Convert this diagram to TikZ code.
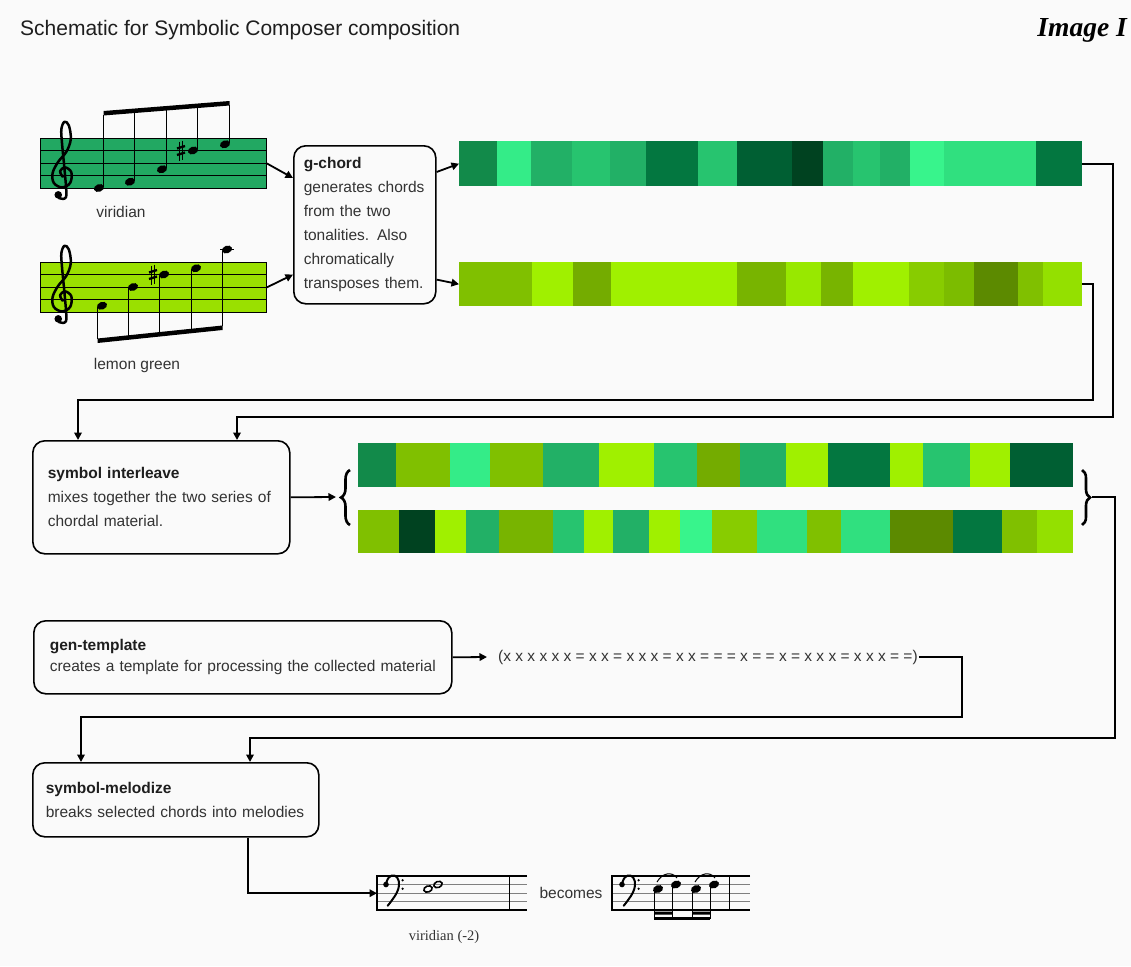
\documentclass[tikz,border=0pt]{standalone}
\usepackage{fontspec}
\setmainfont{Liberation Sans}
\newfontfamily\timesfam{Liberation Serif}
\usetikzlibrary{arrows.meta,calc,decorations.pathreplacing}
\definecolor{bgc}{HTML}{FAFAFA}
\definecolor{txc}{HTML}{333333}
\definecolor{hdc}{HTML}{1E1E1E}
\definecolor{vir}{HTML}{22A862}
\definecolor{lem}{HTML}{9AE000}
\definecolor{Ga}{HTML}{128A4A}
\definecolor{Gb}{HTML}{34EC88}
\definecolor{Gc}{HTML}{22B066}
\definecolor{Gd}{HTML}{27C46F}
\definecolor{Ge}{HTML}{037740}
\definecolor{Gf}{HTML}{005F33}
\definecolor{Gg}{HTML}{004220}
\definecolor{Gh}{HTML}{38F48C}
\definecolor{Gi}{HTML}{30E07F}
\definecolor{La}{HTML}{80C000}
\definecolor{Lb}{HTML}{A0F000}
\definecolor{Lc}{HTML}{74AC00}
\definecolor{Ld}{HTML}{78B400}
\definecolor{Le}{HTML}{98E800}
\definecolor{Lf}{HTML}{88CC00}
\definecolor{Lg}{HTML}{7CBC00}
\definecolor{Lh}{HTML}{5C8A00}
\definecolor{Li}{HTML}{94E000}
\newcommand\MyTrebleClef{%
  \draw[line width=2.5pt, line cap=round, line join=round] plot[smooth, tension=0.6] coordinates {(0.05,-0.1) (-0.15,0.35) (0.25,0.65) (0.75,0.25) (0.65,-0.6) (0,-0.95) (-0.65,-0.6) (-0.75,0.2) (-0.3,1.1) (0.35,1.9) (0.7,2.9) (0.55,4.0) (0.2,4.3) (-0.05,3.7) (0,2.6) (0.2,0.5) (0.35,-1.4) (0.2,-1.85) (-0.25,-1.8)};
  \fill (-0.3,-1.55) circle[radius=3.8pt];}
\newcommand\MyBassClef{%
  \fill (0,0) circle[radius=2.8pt];
  \draw[line width=2pt, line cap=round] plot[smooth, tension=0.7] coordinates {(0,0.1) (0.35,0.85) (1.0,1.05) (1.5,0.4) (1.3,-0.9) (0.2,-2.5)};
  \fill (1.95,0.5) circle[radius=1.3pt];
  \fill (1.95,-0.5) circle[radius=1.3pt];}
\newcommand\MyHead[2]{\fill[rotate around={20:(#1,#2)}] (#1,#2) ellipse[x radius=5.2pt, y radius=3.8pt];}
\newcommand\MyWhole[2]{\draw[line width=1.6pt, rotate around={20:(#1,#2)}] (#1,#2) ellipse[x radius=4.3pt, y radius=3pt];}
\newcommand\MySharp[2]{%
  \draw[line width=0.9pt] ({#1-1.8},{#2-9}) -- ({#1-1.8},{#2+10}) ({#1+1.8},{#2-10}) -- ({#1+1.8},{#2+9});
  \draw[line width=2.3pt] ({#1-4},{#2-2}) -- ({#1+4},{#2-4.5}) ({#1-4},{#2+4.5}) -- ({#1+4},{#2+2});}
\begin{document}
\begin{tikzpicture}[x=1pt,y=-1pt,
  txt/.style={font=\fontsize{15.5}{24}\selectfont, text=txc},
  box/.style={draw=black, line width=1.6pt, rounded corners=12pt, anchor=north west, align=left, inner ysep=0pt, txt},
  arr/.style={line width=1.8pt, line join=miter, -{Triangle[length=7.5pt,width=7.5pt]}},
  staffbox/.style={draw=black, line width=0.8pt, anchor=north west, inner sep=0pt},
  barbox/.style={anchor=north west, inner sep=0pt, draw=none},
  brc/.style={decorate, line width=2.6pt}]
\useasboundingbox (0,0) rectangle (1131,966);
\fill[bgc] (0,0) rectangle (1131,966);

% titles
\node[anchor=west, inner sep=0pt, font=\fontsize{21}{24}\selectfont, text=hdc] (title) at (20,30) {Schematic for Symbolic Composer composition};
\node[anchor=east, inner sep=0pt, font=\timesfam\bfseries\itshape\fontsize{27.5}{30}\selectfont, text=black] (imgI) at (1127,30) {Image I};

% viridian staff
\node[staffbox, fill=vir, minimum width=226pt, minimum height=50pt] (vstaff) at (40,138) {};
\foreach \k in {1,2,3} \draw[line width=0.8pt] (40,{138+12.5*\k}) -- (266,{138+12.5*\k});
\begin{scope}[shift={(62,175.5)}, x=12.5pt, y=12.5pt]\MyTrebleClef\end{scope}
\MyHead{99}{188}\MyHead{130}{181.75}\MyHead{162}{169.25}\MyHead{193}{150.5}\MyHead{225}{144.25}
\MySharp{181}{150.5}
\draw[line width=1pt] (103.5,187) -- (103.5,115) (134.5,180.5) -- (134.5,112.5) (166.5,168) -- (166.5,110) (197.5,149) -- (197.5,107.5) (229.5,143) -- (229.5,105);
\fill (103.5,111) -- (229.5,101) -- (229.5,105.5) -- (103.5,115.5) -- cycle;
\node[txt, anchor=center] (vlab) at (121,212) {viridian};

% lemon staff
\node[staffbox, fill=lem, minimum width=226pt, minimum height=50pt] (lstaff) at (40,262) {};
\foreach \k in {1,2,3} \draw[line width=0.8pt] (40,{262+12.5*\k}) -- (266,{262+12.5*\k});
\begin{scope}[shift={(62,299.5)}, x=12.5pt, y=12.5pt]\MyTrebleClef\end{scope}
\draw[line width=1pt] (220,249.5) -- (234,249.5);
\MyHead{102}{305.75}\MyHead{133}{287}\MyHead{164}{274.5}\MyHead{196}{268.25}\MyHead{227}{249.5}
\MySharp{153}{274.5}
\draw[line width=1pt] (97.5,306.5) -- (97.5,339) (128.5,288) -- (128.5,336) (159.5,275.5) -- (159.5,332.5) (191.5,269) -- (191.5,329) (222.5,250.5) -- (222.5,326);
\fill (97.5,338.5) -- (222.5,325.5) -- (222.5,330) -- (97.5,343) -- cycle;
\node[txt, anchor=center] (llab) at (137,365) {lemon green};

% g-chord box
\node[box, minimum width=142pt, minimum height=158pt, text width=122pt, inner xsep=10pt] (gchord) at (293,145)
 {\textbf{\textcolor{hdc}{g-chord}}\\generates chords\\from the two\\tonalities. Also\\chromatically\\transposes them.};
\draw[arr] (vstaff.east) -- ($(gchord.north west)+(0,33)$);
\draw[arr] (lstaff.east) -- ($(gchord.south west)+(0,-30)$);

% chord bars
\node[barbox, minimum width=623pt, minimum height=45pt] (topbar) at (459,141) {};
\foreach \a/\b/\c in {459/497/Ga,497/531/Gb,531/572/Gc,572/610/Gd,610/646/Gc,646/698/Ge,698/737/Gd,737/792/Gf,792/823/Gg,823/853/Gc,853/880/Gd,880/910/Gc,910/944/Gh,944/1036/Gi,1036/1082/Ge}
  \fill[\c] (\a,141) rectangle (\b,186);
\node[barbox, minimum width=623pt, minimum height=44pt] (botbar) at (459,262) {};
\foreach \a/\b/\c in {459/532/La,532/573/Lb,573/611/Lc,611/737/Lb,737/786/Ld,786/821/Le,821/853/Ld,853/909/Lb,909/944/Lf,944/974/Lg,974/1018/Lh,1018/1043/La,1043/1082/Li}
  \fill[\c] (\a,262) rectangle (\b,306);
\draw[arr] ($(gchord.north east)+(0,27)$) -- (topbar.west);
\draw[arr] ($(gchord.south east)+(0,-25)$) -- (botbar.west);

% symbol interleave
\node[box, minimum width=257pt, minimum height=113pt, text width=227pt, inner xsep=15pt] (inter) at (32,440)
 {\textbf{\textcolor{hdc}{symbol interleave}}\\mixes together the two series of\\chordal material.};
\coordinate (k1) at (1113,417);
\coordinate (k2) at (1093,400);
\draw[arr] (topbar.east) -| (k1) -| ($(inter.north west)+(205,0)$);
\draw[arr] (botbar.east) -| (k2) -| ($(inter.north west)+(46,0)$);

% interleaved bars
\node[barbox, minimum width=715pt, minimum height=44pt] (mixtop) at (358,443) {};
\foreach \a/\b/\c in {358/396/Ga,396/450/La,450/490/Gb,490/543/La,543/599/Gc,599/654/Lb,654/697/Gd,697/740/Lc,740/786/Gc,786/828/Lb,828/890/Ge,890/923/Lb,923/970/Gd,970/1010/Lb,1010/1073/Gf}
  \fill[\c] (\a,443) rectangle (\b,487);
\node[barbox, minimum width=715pt, minimum height=43pt] (mixbot) at (358,510) {};
\foreach \a/\b/\c in {358/399/La,399/435/Gg,435/466/Lb,466/499/Gc,499/553/Ld,553/584/Gd,584/613/Lb,613/649/Gc,649/680/Lb,680/712/Gh,712/757/Lf,757/807/Gi,807/841/La,841/890/Gi,890/953/Lh,953/1002/Ge,1002/1037/La,1037/1073/Li}
  \fill[\c] (\a,510) rectangle (\b,553);
\draw[brc, decoration={brace, amplitude=9pt}] (350,525) -- (350,470);
\draw[brc, decoration={brace, amplitude=8pt}] (1082,470) -- (1082,525);
\coordinate (lbr) at (336,497);
\coordinate (rbr) at (1092,497);
\draw[arr] (inter.east) -- (lbr);

% gen-template
\node[box, minimum width=418pt, minimum height=73pt, text width=386pt, inner xsep=16pt, font=\fontsize{15.5}{21}\selectfont] (gen) at (33,620)
 {\textbf{\textcolor{hdc}{gen-template}}\\creates a template for processing the collected material};
\node[txt, anchor=west, inner sep=1pt] (tmpl) at (497,657) {(x x x x x x = x x = x x x = x x = = = x = = x = x x x = x x x = =)};
\draw[arr] (gen.east) -- ($(tmpl.west)+(-10,0)$);

% symbol-melodize
\node[box, minimum width=286pt, minimum height=74pt, text width=260pt, inner xsep=13pt] (melo) at (32,762)
 {\textbf{\textcolor{hdc}{symbol-melodize}}\\breaks selected chords into melodies};
\coordinate (k3) at (962,717);
\coordinate (k4) at (1115,738);
\draw[arr] (tmpl.east) -| (k3) -| ($(melo.north west)+(49,0)$);
\draw[arr] (rbr) -| (k4) -| ($(melo.north west)+(218,0)$);

% bass staff 1
\node[barbox, minimum width=150pt, minimum height=34pt] (bass1) at (377,876) {};
\foreach \k in {1,2,3} \draw[line width=0.6pt, gray] (377,{876+8.5*\k}) -- (527,{876+8.5*\k});
\draw[line width=1.2pt] (527,876) -- (377,876) -- (377,910) -- (527,910);
\draw[line width=1pt] (509,876) -- (509,910);
\begin{scope}[shift={(386,884.5)}, x=8.5pt, y=8.5pt]\MyBassClef\end{scope}
\MyWhole{428}{889}\MyWhole{438}{884.5}
\draw[arr] ($(melo.south west)+(216,0)$) |- (bass1.west);
\node[font=\timesfam\fontsize{14.5}{16}\selectfont, text=txc, anchor=center] (vlab2) at (444,937) {viridian (-2)};
\node[txt, anchor=center] (becomes) at (571,893) {becomes};

% bass staff 2
\node[barbox, minimum width=138pt, minimum height=34pt] (bass2) at (612,876) {};
\foreach \k in {1,2,3} \draw[line width=0.6pt, gray] (612,{876+8.5*\k}) -- (750,{876+8.5*\k});
\draw[line width=1.2pt] (750,876) -- (612,876) -- (612,910) -- (750,910);
\draw[line width=1pt] (729,876) -- (729,910);
\begin{scope}[shift={(622,884.5)}, x=8.5pt, y=8.5pt]\MyBassClef\end{scope}
\MyHead{658}{889}\MyHead{676}{884.5}\MyHead{696}{889}\MyHead{714}{884.5}
\draw[line width=1pt] (654,890) -- (654,919) (672,885.5) -- (672,919) (692,890) -- (692,919) (710,885.5) -- (710,919);
\fill (654,916.5) rectangle (710,919.5);
\fill (654,911.5) rectangle (672,914.5) (692,911.5) rectangle (710,914.5);
\draw[line width=1pt] (657,882) .. controls (662,873) and (672,871) .. (677,878);
\draw[line width=1pt] (695,882) .. controls (700,873) and (710,871) .. (715,878);
\end{tikzpicture}
\end{document}
